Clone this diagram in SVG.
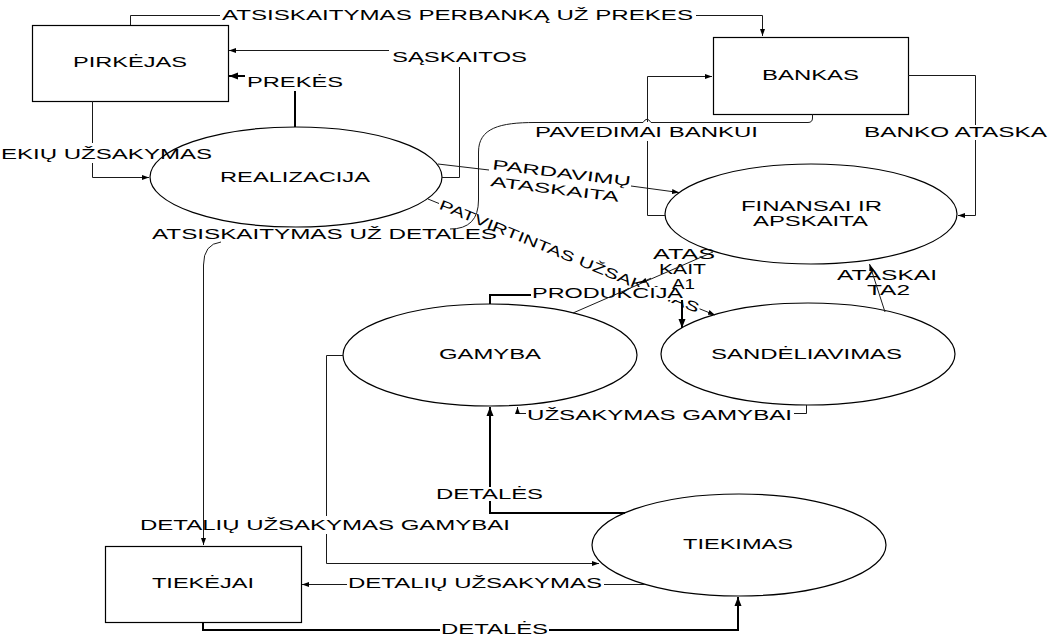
<svg xmlns="http://www.w3.org/2000/svg" width="1052" height="635" viewBox="0 0 1052 635">
  <style>
    text { font-family: "Liberation Sans", Arial, sans-serif; font-size: 14px; fill: #000; }
    .box { fill: #fff; stroke: #000; stroke-width: 1.2; }
    .proc { fill: #fff; stroke: #000; stroke-width: 1.2; }
    .ln { fill: none; stroke: #1a1a1a; stroke-width: 1; }
    .lnb { fill: none; stroke: #000; stroke-width: 2; }
    .arr { marker-end: url(#a); }
    .arrb { marker-end: url(#ab); }
    .bg { fill: #fff; }
  </style>
  <defs>
    <marker id="a" markerUnits="userSpaceOnUse" markerWidth="8" markerHeight="6" refX="7" refY="3" orient="auto">
      <path d="M0,0.5 L7,3 L0,5.5 z" fill="#000"/>
    </marker>
    <marker id="ab" markerUnits="userSpaceOnUse" markerWidth="10" markerHeight="8" refX="9" refY="4" orient="auto">
      <path d="M0,0.5 L9,4 L0,7.5 z" fill="#000"/>
    </marker>
  </defs>

  <rect width="1052" height="635" fill="#fff"/>

  <!-- external entities -->
  <g id="pirkejas">
    <rect class="box" x="32.5" y="25.5" width="196" height="76"/>
    <text x="73" y="67" textLength="114" lengthAdjust="spacingAndGlyphs">PIRKĖJAS</text>
  </g>
  <g id="bankas">
    <rect class="box" x="713.5" y="37.5" width="195" height="77"/>
    <text x="762" y="80" textLength="97" lengthAdjust="spacingAndGlyphs">BANKAS</text>
  </g>
  <g id="tiekejai">
    <rect class="box" x="105.5" y="546.5" width="196" height="76"/>
    <text x="152" y="588" textLength="102" lengthAdjust="spacingAndGlyphs">TIEKĖJAI</text>
  </g>

  <!-- processes -->
  <g id="realizacija">
    <ellipse class="proc" cx="296" cy="177" rx="146" ry="50"/>
    <text x="220" y="182" textLength="150" lengthAdjust="spacingAndGlyphs">REALIZACIJA</text>
  </g>
  <g id="finansai">
    <ellipse class="proc" cx="811" cy="214" rx="146" ry="50"/>
    <text x="741" y="211" textLength="141" lengthAdjust="spacingAndGlyphs">FINANSAI IR</text>
    <text x="753" y="226" textLength="115" lengthAdjust="spacingAndGlyphs">APSKAITA</text>
  </g>
  <g id="gamyba">
    <ellipse class="proc" cx="490" cy="355" rx="147" ry="51"/>
    <text x="439" y="359" textLength="102" lengthAdjust="spacingAndGlyphs">GAMYBA</text>
  </g>
  <g id="sandeliavimas">
    <ellipse class="proc" cx="808" cy="354" rx="147" ry="51"/>
    <text x="711" y="359" textLength="191" lengthAdjust="spacingAndGlyphs">SANDĖLIAVIMAS</text>
  </g>
  <g id="tiekimas">
    <ellipse class="proc" cx="739" cy="545" rx="147" ry="51"/>
    <text x="683" y="549" textLength="110" lengthAdjust="spacingAndGlyphs">TIEKIMAS</text>
  </g>

  <!-- flow labels -->
  <g id="labels">
    <text x="222" y="20" textLength="471" lengthAdjust="spacingAndGlyphs">ATSISKAITYMAS PERBANKĄ UŽ PREKES</text>
    <text x="392" y="62" textLength="135" lengthAdjust="spacingAndGlyphs">SĄSKAITOS</text>
    <text x="247" y="87" textLength="96" lengthAdjust="spacingAndGlyphs">PREKĖS</text>
    <text x="1" y="159" textLength="211" lengthAdjust="spacingAndGlyphs">EKIŲ UŽSAKYMAS</text>
    <text x="535" y="137" textLength="223" lengthAdjust="spacingAndGlyphs">PAVEDIMAI BANKUI</text>
    <text x="864" y="137" textLength="183" lengthAdjust="spacingAndGlyphs">BANKO ATASKA</text>
    <g transform="rotate(7 490 170)">
      <text x="492" y="169" textLength="139" lengthAdjust="spacingAndGlyphs">PARDAVIMŲ</text>
      <text x="492" y="186" textLength="129" lengthAdjust="spacingAndGlyphs">ATASKAITA</text>
    </g>
    <text transform="translate(428 199) rotate(22)" x="13" y="5" textLength="279" lengthAdjust="spacingAndGlyphs">PATVIRTINTAS UŽSAKYMAS</text>
    <text x="152" y="239" textLength="345" lengthAdjust="spacingAndGlyphs">ATSISKAITYMAS UŽ DETALES</text>
    <text x="653" y="259" textLength="62" lengthAdjust="spacingAndGlyphs">ATAS</text>
    <text x="659" y="274" textLength="47" lengthAdjust="spacingAndGlyphs">KAIT</text>
    <rect class="bg" x="530" y="287" width="156" height="13"/>
    <text x="532" y="298" textLength="151" lengthAdjust="spacingAndGlyphs">PRODUKCIJA</text>
    <text x="672" y="289" textLength="23" lengthAdjust="spacingAndGlyphs">A1</text>
    <text x="837" y="280" textLength="100" lengthAdjust="spacingAndGlyphs">ATASKAI</text>
    <text x="867" y="295" textLength="43" lengthAdjust="spacingAndGlyphs">TA2</text>
    <text x="527" y="420" textLength="265" lengthAdjust="spacingAndGlyphs">UŽSAKYMAS GAMYBAI</text>
    <text x="436" y="499" textLength="107" lengthAdjust="spacingAndGlyphs">DETALĖS</text>
    <text x="140" y="530" textLength="370" lengthAdjust="spacingAndGlyphs">DETALIŲ UŽSAKYMAS GAMYBAI</text>
    <text x="348" y="588" textLength="254" lengthAdjust="spacingAndGlyphs">DETALIŲ UŽSAKYMAS</text>
    <text x="441" y="633.5" textLength="107" lengthAdjust="spacingAndGlyphs">DETALĖS</text>
  </g>

  <!-- data flows -->
  <g id="connectors">
    <path class="ln arr" d="M130.5,25 V15.5 H220 M696,15.5 H762.5 V36"/>
    <path class="ln arr" d="M442,177.5 H459.5 V67 M389,50.5 H229"/>
    <path class="lnb arrb" d="M295,127 V91 M245,76 H229"/>
    <path class="ln arr" d="M92.5,101 V143 M92.5,163 V177.5 H149"/>
    <path class="ln" d="M812.5,114 V118 Q812.5,122.5 808,122.5 H651 Q647,116 643,122.5 H535 C500,122.5 478.5,128 478.5,152 V200 Q478.5,229 450,229"/>
    <path class="ln arr" d="M221,242 Q203.5,244 203.5,265 V545"/>
    <path class="ln arr" d="M665,215.5 H647.5 V141 M647.5,122 V76.5 H712"/>
    <path class="ln arr" d="M908,75.5 H975.5 V125 M975.5,140 V215.5 H958"/>
    <path class="ln arr" d="M438,164 L489,170 M631,186 L679,192.5"/>
    <path class="ln arr" d="M428,199 L439,203.5 M699.6,308.8 L715,315"/>
    <path class="ln" d="M713,252 L573,313"/>
    <path class="ln arr" d="M651,278.2 L640,283"/>
    <path class="lnb arrb" d="M490,304 V295 H531 M682,300 V328"/>
    <path class="ln arr" d="M885,312 L869.5,264"/>
    <path class="ln arr" d="M806.5,405 V413.5 H794 M526,413.5 H517.5 V407"/>
    <path class="lnb arrb" d="M625,513 H490 V501 M490,487 V407"/>
    <path class="ln arr" d="M343,355.5 H326.5 V516 M326.5,534 V563.5 H599"/>
    <path class="ln arr" d="M645,584.5 H604 M347,584.5 H302"/>
    <path class="lnb arrb" d="M203,622 V630 H440 M549,630 H738 V597"/>
  </g>
</svg>
